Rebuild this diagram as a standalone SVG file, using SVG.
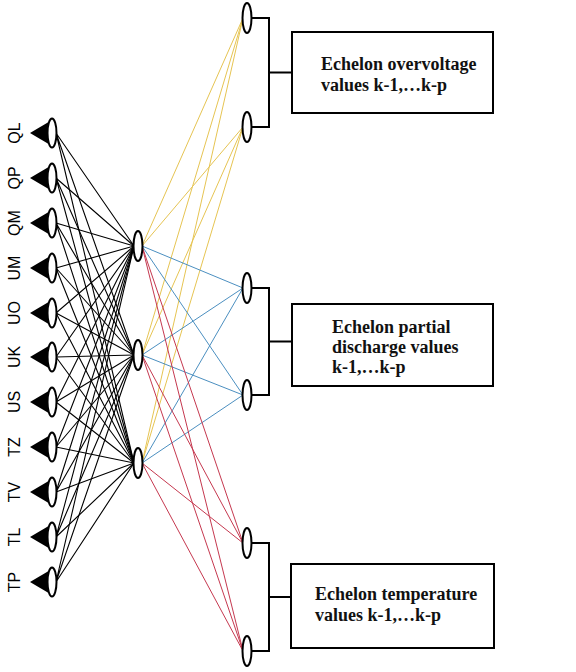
<svg xmlns="http://www.w3.org/2000/svg" width="576" height="672" viewBox="0 0 576 672">
<style>
.bg{fill:#fff}
.nd{fill:#fff;stroke:#000;stroke-width:2}
.tri{fill:#000}
.lbl{font-family:"Liberation Sans",Arial,sans-serif;font-size:16px;fill:#000;text-anchor:middle}
.bx{fill:#fff;stroke:#000;stroke-width:2}
.bt{font-family:"Liberation Serif","Times New Roman",serif;font-size:18px;font-weight:bold;fill:#111}
.k{stroke:#000;stroke-width:1.1;fill:none}
.y{stroke:#e6c452;stroke-width:1;fill:none}
.b{stroke:#4b8fc0;stroke-width:1;fill:none}
.r{stroke:#c5384f;stroke-width:1;fill:none}
.br{stroke:#000;stroke-width:2;fill:none}
</style>
<defs>
<g id="inp">
<polygon class="tri" points="30,0 52,-13 52,13"/>
<ellipse class="nd" cx="52" cy="0" rx="4.5" ry="14.5"/>
</g>
</defs>
<rect class="bg" x="0" y="0" width="576" height="672"/>
<g id="connectors">
<g id="in-hidden">
<path class="k" d="M56,133L134,246M56,133L134,355M56,133L134,463"/>
<path class="k" d="M56,178L134,246M56,178L134,355M56,178L134,463"/>
<path class="k" d="M56,223L134,246M56,223L134,355M56,223L134,463"/>
<path class="k" d="M56,268L134,246M56,268L134,355M56,268L134,463"/>
<path class="k" d="M56,313L134,246M56,313L134,355M56,313L134,463"/>
<path class="k" d="M56,357L134,246M56,357L134,355M56,357L134,463"/>
<path class="k" d="M56,402L134,246M56,402L134,355M56,402L134,463"/>
<path class="k" d="M56,447L134,246M56,447L134,355M56,447L134,463"/>
<path class="k" d="M56,492L134,246M56,492L134,355M56,492L134,463"/>
<path class="k" d="M56,537L134,246M56,537L134,355M56,537L134,463"/>
<path class="k" d="M56,582L134,246M56,582L134,355M56,582L134,463"/>
</g>
<g id="hidden-out">
<path class="y" d="M142,246L243,18M142,355L243,18M142,463L243,18M142,246L243,127M142,355L243,127M142,463L243,127"/>
<path class="b" d="M142,246L243,288M142,355L243,288M142,463L243,288M142,246L243,395M142,355L243,395M142,463L243,395"/>
<path class="r" d="M142,246L243,543M142,355L243,543M142,463L243,543M142,246L243,651M142,355L243,651M142,463L243,651"/>
</g>
<g id="brackets">
<path class="br" d="M251,18H269V127H251M269,72.5H292"/>
<path class="br" d="M251,288H269V395H251M269,341.5H292"/>
<path class="br" d="M251,543H269V651H251M269,597H291"/>
</g>
</g>
<g id="in-QL"><use href="#inp" y="133"/><text class="lbl" transform="translate(20,133) rotate(-90)">QL</text></g>
<g id="in-QP"><use href="#inp" y="178"/><text class="lbl" transform="translate(20,178) rotate(-90)">QP</text></g>
<g id="in-QM"><use href="#inp" y="223"/><text class="lbl" transform="translate(20,223) rotate(-90)">QM</text></g>
<g id="in-UM"><use href="#inp" y="268"/><text class="lbl" transform="translate(20,268) rotate(-90)">UM</text></g>
<g id="in-UO"><use href="#inp" y="313"/><text class="lbl" transform="translate(20,313) rotate(-90)">UO</text></g>
<g id="in-UK"><use href="#inp" y="357"/><text class="lbl" transform="translate(20,357) rotate(-90)">UK</text></g>
<g id="in-US"><use href="#inp" y="402"/><text class="lbl" transform="translate(20,402) rotate(-90)">US</text></g>
<g id="in-TZ"><use href="#inp" y="447"/><text class="lbl" transform="translate(20,447) rotate(-90)">TZ</text></g>
<g id="in-TV"><use href="#inp" y="492"/><text class="lbl" transform="translate(20,492) rotate(-90)">TV</text></g>
<g id="in-TL"><use href="#inp" y="537"/><text class="lbl" transform="translate(20,537) rotate(-90)">TL</text></g>
<g id="in-TP"><use href="#inp" y="582"/><text class="lbl" transform="translate(20,582) rotate(-90)">TP</text></g>
<g id="hidden-1"><ellipse class="nd" cx="138" cy="246" rx="4.5" ry="15"/></g>
<g id="hidden-2"><ellipse class="nd" cx="138" cy="355" rx="4.5" ry="15"/></g>
<g id="hidden-3"><ellipse class="nd" cx="138" cy="463" rx="4.5" ry="15"/></g>
<g id="out-1"><ellipse class="nd" cx="247" cy="18" rx="4.5" ry="15"/></g>
<g id="out-2"><ellipse class="nd" cx="247" cy="127" rx="4.5" ry="15"/></g>
<g id="out-3"><ellipse class="nd" cx="247" cy="288" rx="4.5" ry="15"/></g>
<g id="out-4"><ellipse class="nd" cx="247" cy="395" rx="4.5" ry="15"/></g>
<g id="out-5"><ellipse class="nd" cx="247" cy="543" rx="4.5" ry="15"/></g>
<g id="out-6"><ellipse class="nd" cx="247" cy="651" rx="4.5" ry="15"/></g>
<g id="box-overvoltage">
<rect class="bx" x="292" y="32" width="201" height="81"/>
<text class="bt" x="321" y="70">Echelon overvoltage</text>
<text class="bt" x="321" y="91">values k-1,…k-p</text>
</g>
<g id="box-partial">
<rect class="bx" x="292" y="304" width="201" height="82"/>
<text class="bt" x="332" y="333">Echelon partial</text>
<text class="bt" x="332" y="353">discharge values</text>
<text class="bt" x="332" y="373">k-1,…k-p</text>
</g>
<g id="box-temperature">
<rect class="bx" x="291" y="564" width="203" height="84"/>
<text class="bt" x="315" y="600">Echelon temperature</text>
<text class="bt" x="315" y="621">values k-1,…k-p</text>
</g>
</svg>
